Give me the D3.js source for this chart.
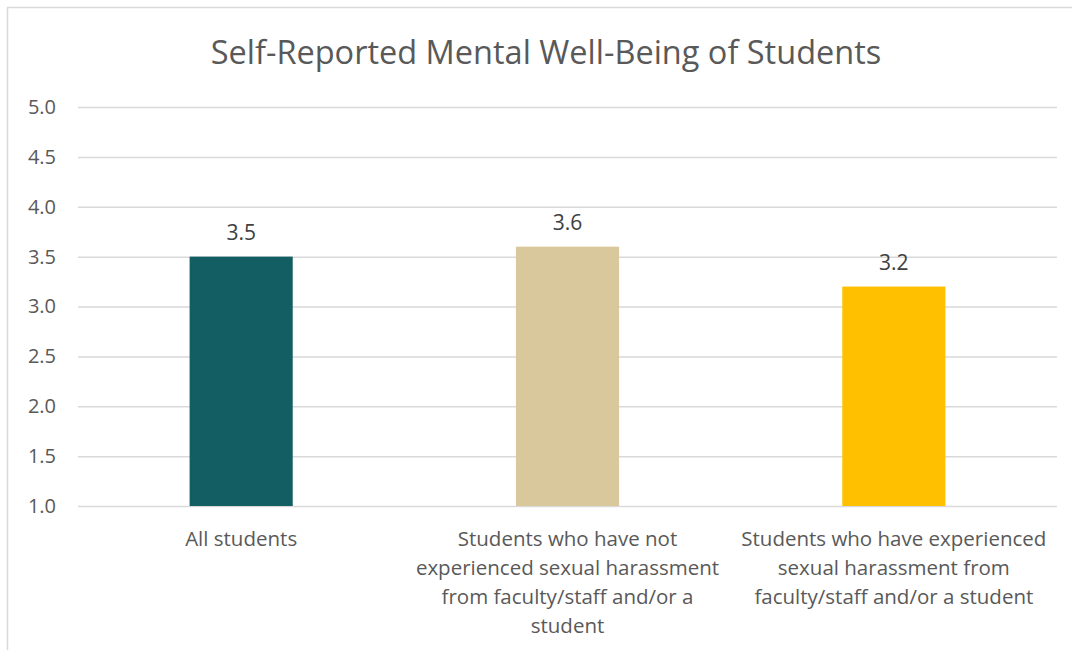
<!DOCTYPE html>
<html lang="en">
<head>
    <meta charset="UTF-8">
    <title>Self-Reported Mental Well-Being of Students</title>
    <script src="https://d3js.org/d3.v7.min.js"></script>
    <style>
        body { margin: 0; background: #fff; }
        svg { display: block; font-family: "Open Sans", "Noto Sans", sans-serif; }
    </style>
</head>
<body>
    <script>
        // chart data
        const categories = ["All students", "Not experienced", "Experienced"];
        const values = [3.5, 3.6, 3.2];
        const categoryLabels = [
            ["All students"],
            ["Students who have not", "experienced sexual harassment", "from faculty/staff and/or a", "student"],
            ["Students who have experienced", "sexual harassment from", "faculty/staff and/or a student"]
        ];
        const barColors = ["#135e63", "#d9c89c", "#ffc000"];
        const yTicks = [1.0, 1.5, 2.0, 2.5, 3.0, 3.5, 4.0, 4.5, 5.0];
        const title = "Self-Reported Mental Well-Being of Students";

        const w = 1072;
        const h = 650;
        const plotLeft = 78, plotRight = 1057, plotTop = 107, plotBottom = 506;

        const svg = d3.select("body")
            .append("svg")
            .attr("width", w)
            .attr("height", h);

        // chart border
        svg.append("rect")
            .attr("x", 7.5).attr("y", 7.5)
            .attr("width", w).attr("height", h)
            .attr("fill", "none")
            .attr("stroke", "#d9d9d9")
            .attr("stroke-width", 1.5);

        // title
        svg.append("text")
            .attr("x", 546).attr("y", 64)
            .attr("text-anchor", "middle")
            .attr("font-size", 32.5)
            .attr("fill", "#595959")
            .text(title);

        const xScale = d3.scaleBand()
            .domain(categories)
            .range([plotLeft, plotRight])
            .padding(0);

        const yScale = d3.scaleLinear()
            .domain([1, 5])
            .range([plotBottom, plotTop]);

        // gridlines + y labels
        const yAxis = d3.axisLeft(yScale)
            .tickValues(yTicks)
            .tickSize(-(plotRight - plotLeft))
            .tickPadding(22)
            .tickFormat(d3.format(".1f"));

        const gy = svg.append("g")
            .attr("transform", "translate(" + plotLeft + ",0)")
            .call(yAxis);
        gy.select(".domain").remove();
        gy.selectAll(".tick line").attr("stroke", "#d9d9d9").attr("stroke-width", 1.5);
        gy.selectAll(".tick text")
            .attr("font-size", 20)
            .attr("fill", "#595959")
            .attr("font-family", "Open Sans, Noto Sans, sans-serif");

        const barW = xScale.bandwidth() * 0.316;

        svg.selectAll("rect.bar")
            .data(values)
            .enter()
            .append("rect")
            .attr("class", "bar")
            .attr("x", (d, i) => xScale(categories[i]) + xScale.bandwidth() / 2 - barW / 2)
            .attr("y", d => yScale(d))
            .attr("width", barW)
            .attr("height", d => yScale(1) - yScale(d))
            .attr("fill", (d, i) => barColors[i]);

        // value labels
        svg.selectAll("text.val")
            .data(values)
            .enter()
            .append("text")
            .attr("class", "val")
            .attr("x", (d, i) => xScale(categories[i]) + xScale.bandwidth() / 2)
            .attr("y", d => yScale(d) - 17)
            .attr("text-anchor", "middle")
            .attr("font-size", 21)
            .attr("fill", "#404040")
            .text(d => d3.format(".1f")(d));

        // category labels
        categoryLabels.forEach((lines, i) => {
            const cx = xScale(categories[i]) + xScale.bandwidth() / 2;
            const t = svg.append("text")
                .attr("x", cx)
                .attr("y", 546)
                .attr("text-anchor", "middle")
                .attr("font-size", 20.5)
                .attr("fill", "#595959");
            lines.forEach((line, j) => {
                t.append("tspan")
                    .attr("x", cx)
                    .attr("dy", j === 0 ? 0 : 29)
                    .text(line);
            });
        });
    </script>
</body>
</html>
